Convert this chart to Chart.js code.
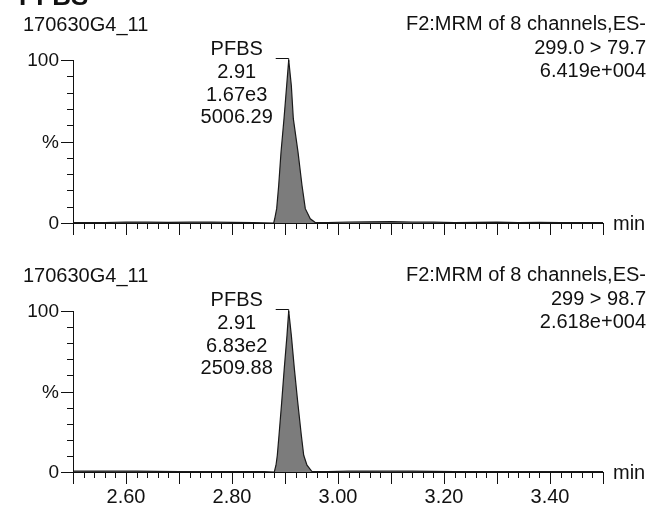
<!DOCTYPE html>
<html>
<head>
<meta charset="utf-8">
<script src="https://cdn.jsdelivr.net/npm/chart.js@4.4.0/dist/chart.umd.min.js"></script>
<style>
  html, body { margin: 0; padding: 0; background: #fff; }
  canvas { display: block; }
</style>
</head>
<body>
<canvas id="trace-1" width="652" height="253"></canvas>
<canvas id="trace-2" width="652" height="253"></canvas>
<script>
// chromatogram data
var compound = 'PFBS';
var sampleName = '170630G4_11';
var scanName = 'F2:MRM of 8 channels,ES-';
var transitions = ['299.0 > 79.7', '299 > 98.7'];
var maxIntensity = ['6.419e+004', '2.618e+004'];
var peakRT = ['2.91', '2.91'];
var peakHeight = ['1.67e3', '6.83e2'];
var peakArea = ['5006.29', '2509.88'];

var times1 = [2.50, 2.56, 2.60, 2.64, 2.68, 2.72, 2.76, 2.80, 2.84, 2.8787, 2.8806, 2.8843, 2.8881, 2.8925, 2.8981, 2.9032, 2.9070,
              2.9119, 2.9157, 2.9245, 2.9321, 2.9383, 2.9477, 2.9566, 2.98, 3.02, 3.06, 3.10, 3.14, 3.18, 3.22, 3.26, 3.30, 3.34, 3.38, 3.42, 3.46, 3.50];
var pct1 = [0.2, 0.3, 0.6, 0.5, 0.4, 0.5, 0.6, 0.4, 0.3, 0, 2.6, 8.8, 23, 43.6, 64, 84.5, 100,
            84.5, 64, 43.6, 23, 8.8, 2.6, 0.4, 0.3, 0.6, 0.7, 0.8, 0.6, 0.5, 0.3, 0.4, 0.5, 0.3, 0.4, 0.2, 0.3, 0.2];

var times2 = [2.50, 2.54, 2.58, 2.62, 2.66, 2.70, 2.74, 2.78, 2.82, 2.86, 2.8798, 2.8830, 2.8855, 2.8887, 2.8938, 2.8987, 2.9038, 2.9070,
              2.9119, 2.9175, 2.9240, 2.9308, 2.9353, 2.9415, 2.9509, 2.98, 3.02, 3.06, 3.10, 3.14, 3.18, 3.22, 3.26, 3.30, 3.34, 3.38, 3.42, 3.46, 3.50];
var pct2 = [0.5, 0.6, 0.5, 0.6, 0.4, 0.2, 0.3, 0.3, 0.2, 0.3, 0, 4.2, 10.4, 22.8, 43.5, 64.7, 85, 100,
            85, 64.7, 43.5, 22.8, 10.4, 4.2, 0.3, 0.3, 0.5, 0.6, 0.5, 0.6, 0.4, 0.2, 0.3, 0.2, 0.3, 0.3, 0.2, 0.3, 0.2];

var xMin = 2.50, xMax = 3.50;
var xTickLabels = ['2.60', '2.80', '3.00', '3.20', '3.40'];
var yTickLabels = ['0', '%', '100'];

var FONT = '"Liberation Sans", Arial, sans-serif';
var INK = '#111';

function toPoints(xs, ys) {
    return xs.map(function(t, i) { return { x: t, y: ys[i] }; });
}

var tracePlugin = {
    id: 'trace',
    afterDraw: function(chart) {
        var o = chart.options.plugins.trace;
        var ctx = chart.ctx, a = chart.chartArea;
        var xs = chart.scales.x, ys = chart.scales.y;
        ctx.save();
        ctx.strokeStyle = INK;
        ctx.fillStyle = INK;
        ctx.lineWidth = 1;

        // axes and tick marks
        ctx.beginPath();
        ctx.moveTo(a.left + 0.5, a.top);
        ctx.lineTo(a.left + 0.5, a.bottom + 0.5);
        ctx.lineTo(a.right + 0.5, a.bottom + 0.5);
        for (var i = 0; i <= 50; i++) {
            var px = Math.round(xs.getPixelForValue(xMin + i * 0.02)) + 0.5;
            ctx.moveTo(px, a.bottom);
            ctx.lineTo(px, a.bottom + (i % 5 === 0 ? 12 : 6));
        }
        for (var j = 0; j <= 10; j++) {
            var py = Math.round(ys.getPixelForValue(j * 10)) + 0.5;
            ctx.moveTo(a.left, py);
            ctx.lineTo(a.left - (j % 5 === 0 ? 12 : 6), py);
        }
        ctx.stroke();

        // y labels: 0, %, 100
        ctx.font = '19px ' + FONT;
        ctx.textAlign = 'right';
        ctx.textBaseline = 'middle';
        yTickLabels.forEach(function(lab, k) {
            ctx.fillText(lab, a.left - 14, ys.getPixelForValue(k * 50) + 1);
        });

        ctx.font = '20px ' + FONT;
        // x labels only under the lower trace
        if (o.xLabels) {
            ctx.textAlign = 'center';
            ctx.textBaseline = 'alphabetic';
            xTickLabels.forEach(function(lab) {
                ctx.fillText(lab, xs.getPixelForValue(parseFloat(lab)), a.bottom + 31);
            });
        }
        ctx.textAlign = 'left';
        ctx.textBaseline = 'alphabetic';
        ctx.fillText('min', a.right + 10, a.bottom + 7);

        // header
        ctx.fillText(sampleName, 23, a.top - 29);
        ctx.textAlign = 'right';
        ctx.fillText(scanName, 646, a.top - 30);
        ctx.fillText(o.transition, 646, a.top - 6);
        ctx.fillText(o.maxIntensity, 646, a.top + 17);

        // peak label
        var data = chart.data.datasets[0].data;
        var apex = data.reduce(function(m, p) { return p.y > m.y ? p : m; }, data[0]);
        var ax = xs.getPixelForValue(apex.x);
        var ay = ys.getPixelForValue(apex.y);
        ctx.textAlign = 'center';
        var lines = [compound, o.rt, o.height, o.area];
        lines.forEach(function(s, k) {
            ctx.fillText(s, ax - 52, a.top - 5 + k * 22.8);
        });
        ctx.beginPath();
        ctx.moveTo(ax - 13, ay - 1.5);
        ctx.lineTo(ax, ay - 1.5);
        ctx.lineTo(ax, ay + 2);
        ctx.stroke();

        // cropped bold title at the very top
        if (o.title) {
            ctx.font = 'bold 26px ' + FONT;
            ctx.textAlign = 'left';
            ctx.fillText(compound, 19, 5);
        }
        ctx.restore();
    }
};

function makeChart(id, xs, ys, idx, padTop, padBottom) {
    return new Chart(document.getElementById(id), {
        type: 'line',
        data: {
            datasets: [{
                data: toPoints(xs, ys),
                borderColor: '#1a1a1a',
                borderWidth: 1.2,
                backgroundColor: '#7c7c7c',
                fill: 'origin',
                pointRadius: 0,
                tension: 0
            }]
        },
        options: {
            responsive: false,
            animation: false,
            layout: { padding: { left: 73, right: 49, top: padTop, bottom: padBottom } },
            scales: {
                x: { type: 'linear', min: xMin, max: xMax, display: false },
                y: { min: 0, max: 100, display: false }
            },
            plugins: {
                legend: { display: false },
                tooltip: { enabled: false },
                trace: {
                    title: idx === 0,
                    xLabels: idx === 1,
                    transition: transitions[idx],
                    maxIntensity: maxIntensity[idx],
                    rt: peakRT[idx],
                    height: peakHeight[idx],
                    area: peakArea[idx]
                }
            }
        },
        plugins: [tracePlugin]
    });
}

window.onload = function() {
    makeChart('trace-1', times1, pct1, 0, 60, 30);
    makeChart('trace-2', times2, pct2, 1, 58, 34);
};
</script>
</body>
</html>
